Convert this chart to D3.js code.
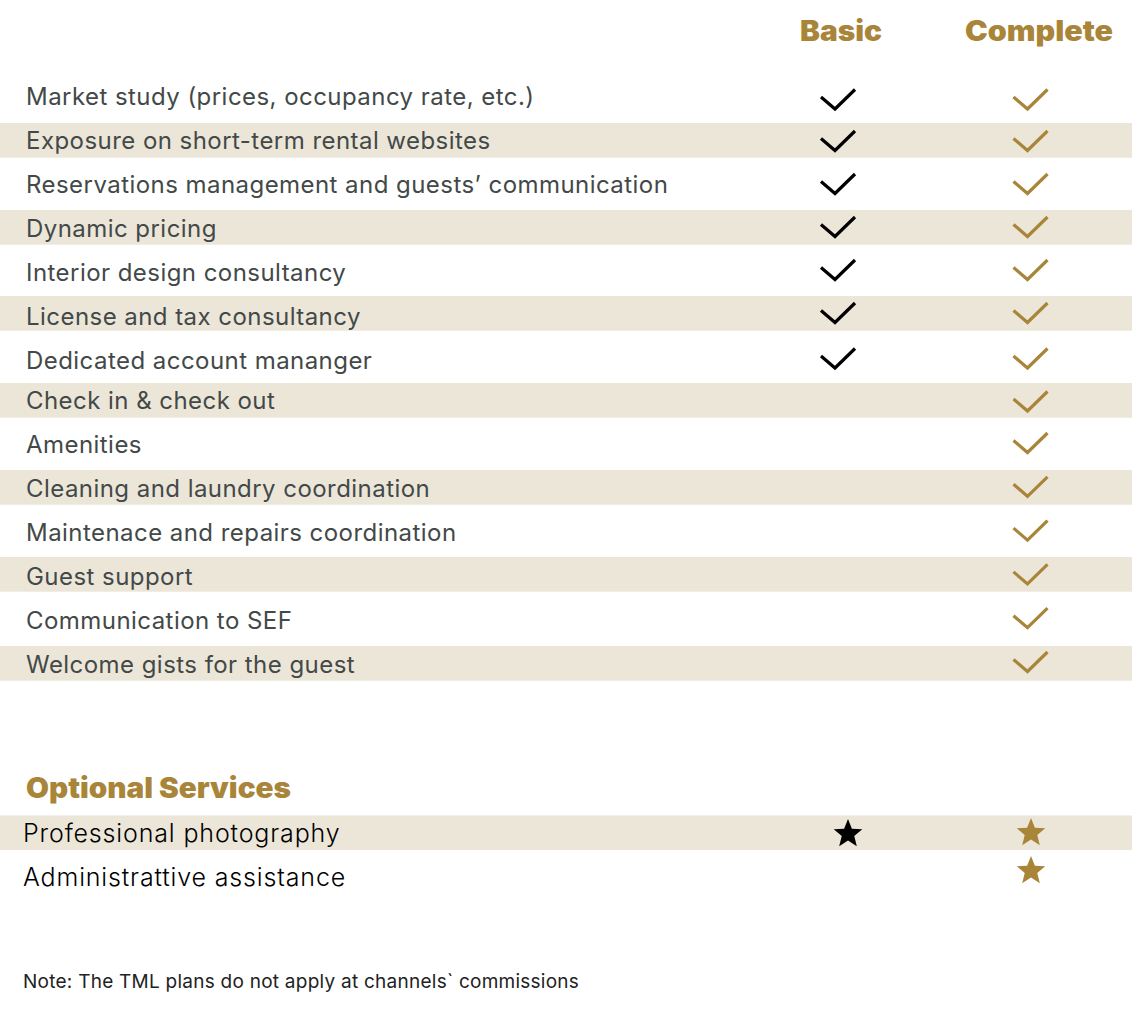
<!DOCTYPE html>
<html>
<head>
<meta charset="utf-8">
<script src="https://cdn.jsdelivr.net/npm/d3@7"></script>
<style>
  html, body { margin: 0; padding: 0; background: #fff; }
  svg { display: block; }
</style>
</head>
<body>
<div id="chart"></div>
<script>
const plans = ["Basic", "Complete"];
const services = [
  "Market study (prices, occupancy rate, etc.)",
  "Exposure on short-term rental websites",
  "Reservations management and guests’ communication",
  "Dynamic pricing",
  "Interior design consultancy",
  "License and tax consultancy",
  "Dedicated account mananger",
  "Check in & check out",
  "Amenities",
  "Cleaning and laundry coordination",
  "Maintenace and repairs coordination",
  "Guest support",
  "Communication to SEF",
  "Welcome gists for the guest"
];
const basicIncluded = [1, 1, 1, 1, 1, 1, 1, 0, 0, 0, 0, 0, 0, 0];
const completeIncluded = [1, 1, 1, 1, 1, 1, 1, 1, 1, 1, 1, 1, 1, 1];

const optionalTitle = "Optional Services";
const optionalServices = ["Professional photography", "Administrattive assistance"];
const optionalBasic = [1, 0];
const optionalComplete = [1, 1];
const note = "Note: The TML plans do not apply at channels` commissions";

const width = 1132, height = 1015;
const gold = "#a9853a", band = "#ece6d9", grey = "#434948";
const labelFont = "Inter, sans-serif";
const headFont = "Inter, sans-serif";

const svg = d3.select("#chart").append("svg")
  .attr("width", width)
  .attr("height", height);

// rows: the artwork has a small jump after row 6, so the scales are piecewise
const labelY = d3.scaleLinear().domain([0, 6, 7, 13]).range([97, 361, 401, 665]);
const bandY = d3.scaleLinear().domain([1, 3, 5, 7, 9, 11, 13]).range([123, 210, 296, 383, 470, 557, 646]);
const tickY = d3.scaleLinear().domain([0, 1, 5, 6, 7, 8, 13]).range([99, 140.5, 312.5, 358, 401, 442.5, 661.5]);
const planX = d3.scaleOrdinal().domain(plans).range([838, 1030.5]);
const optY = d3.scaleLinear().domain([0, 1]).range([833, 877]);

// bands
svg.append("g").selectAll("rect")
  .data(services.map((d, i) => i).filter(i => i % 2 == 1))
  .enter().append("rect")
  .attr("x", 0)
  .attr("y", i => bandY(i))
  .attr("width", width)
  .attr("height", 34.7)
  .attr("fill", band);

svg.append("rect")
  .attr("x", 0).attr("y", 815.5)
  .attr("width", width).attr("height", 34.5)
  .attr("fill", band);

// headers
svg.append("g").selectAll("text")
  .data(plans)
  .enter().append("text")
  .attr("x", (d, i) => i == 0 ? 841 : 1039)
  .attr("y", 41)
  .attr("text-anchor", "middle")
  .attr("textLength", (d, i) => i == 0 ? 82 : 148)
  .attr("lengthAdjust", "spacingAndGlyphs")
  .style("font", "900 28px " + headFont)
  .attr("fill", gold)
  .text(d => d);

// labels
svg.append("g").selectAll("text")
  .data(services)
  .enter().append("text")
  .attr("x", 26)
  .attr("y", (d, i) => labelY(i))
  .attr("dy", "0.35em")
  .style("font", "400 24px " + labelFont)
  .style("letter-spacing", "0.45px")
  .attr("fill", grey)
  .text(d => d);

// check marks
const checkPath = d3.line()([[-17, -2], [-3, 10], [17, -9.5]]);
function drawChecks(flags, plan, color) {
  svg.append("g").selectAll("path")
    .data(flags.map((d, i) => ({ on: d, row: i })).filter(d => d.on))
    .enter().append("path")
    .attr("d", checkPath)
    .attr("transform", d => `translate(${planX(plan)},${tickY(d.row)})`)
    .attr("fill", "none")
    .attr("stroke", color)
    .attr("stroke-width", 3.2);
}
drawChecks(basicIncluded, "Basic", "#000");
drawChecks(completeIncluded, "Complete", gold);

// optional services
svg.append("text")
  .attr("x", 26)
  .attr("y", 798)
  .attr("textLength", 265)
  .attr("lengthAdjust", "spacingAndGlyphs")
  .style("font", "900 28px " + headFont)
  .attr("fill", gold)
  .text(optionalTitle);

svg.append("g").selectAll("text")
  .data(optionalServices)
  .enter().append("text")
  .attr("x", 23)
  .attr("y", (d, i) => optY(i))
  .attr("dy", "0.35em")
  .style("font", "300 25px " + labelFont)
  .style("letter-spacing", "0.85px")
  .attr("fill", "#000")
  .text(d => d);

// five pointed star, fatter than d3.symbolStar
const star = d3.lineRadial().curve(d3.curveLinearClosed)(
  d3.range(10).map(i => [i * Math.PI / 5, i % 2 == 0 ? 15 : 6.6])
);
svg.append("path")
  .attr("d", star)
  .attr("transform", `translate(848,${optY(0) + 1})`)
  .attr("fill", "#000")
  .style("display", optionalBasic[0] ? null : "none");
svg.append("g").selectAll("path")
  .data(optionalComplete)
  .enter().append("path")
  .attr("d", star)
  .attr("transform", (d, i) => `translate(1031,${i == 0 ? 833 : 871})`)
  .attr("fill", gold);

svg.append("text")
  .attr("x", 23)
  .attr("y", 981)
  .attr("dy", "0.35em")
  .style("font", "400 19px " + labelFont)
  .style("letter-spacing", "0.25px")
  .attr("fill", "#222")
  .text(note);
</script>
</body>
</html>
